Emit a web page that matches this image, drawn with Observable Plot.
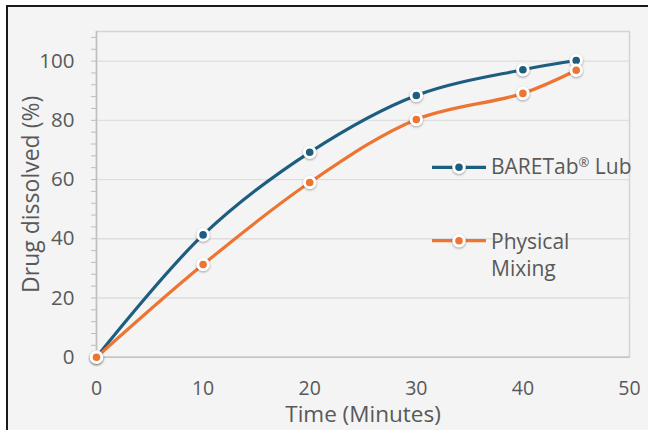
<!DOCTYPE html>
<html><head><meta charset="utf-8">
<script src="https://cdn.jsdelivr.net/npm/d3@7"></script>
<script src="https://cdn.jsdelivr.net/npm/@observablehq/plot@0.6"></script>
<style>
html,body{margin:0;padding:0;background:#fff;}
#wrap{position:relative;width:648px;height:430px;overflow:hidden;font-family:"Open Sans",sans-serif;}
#bg{position:absolute;left:6px;top:5px;right:0;bottom:0;background:#f4f4f4;border-top:2px solid #1a1a1a;border-left:2px solid #1a1a1a;}
#chart{position:absolute;left:0;top:0;}
#legend{position:absolute;left:0;top:0;pointer-events:none;}
</style>
</head><body>
<div id="wrap"><div id="bg"></div><div id="chart"></div><svg id="legend" width="648" height="430"></svg></div>
<script>
// Data
const times = [0, 10, 20, 30, 40, 45];
const baretab = [0, 41.3, 69.2, 88.4, 97.1, 100.2];
const physical = [0, 31.3, 59.0, 80.3, 89.1, 96.9];
const seriesNames = ["BARETab® Lub", "Physical Mixing"];
const seriesColors = ["#1d5e80", "#ed7431"];
const xTicks = [0, 10, 20, 30, 40, 50];
const yTicks = [0, 20, 40, 60, 80, 100];
const yMinorTicks = [0, 4, 8, 12, 16, 20, 24, 28, 32, 36, 40, 44, 48, 52, 56, 60, 64, 68, 72, 76, 80, 84, 88, 92, 96, 100, 104, 108];
const xTitle = "Time (Minutes)";
const yTitle = "Drug dissolved (%)";

const rows = times.flatMap((t, i) => [
  {t, v: baretab[i], s: seriesNames[0]},
  {t, v: physical[i], s: seriesNames[1]}
]);

const textColor = "#595959";

const plot = Plot.plot({
  width: 648, height: 430,
  marginLeft: 96, marginRight: 19, marginTop: 31, marginBottom: 73.3,
  style: {background: "transparent", fontFamily: "'Open Sans', sans-serif", color: textColor},
  x: {domain: [0, 50]},
  y: {domain: [0, 110]},
  color: {domain: seriesNames, range: seriesColors},
  marks: [
    Plot.gridY({ticks: yTicks.slice(1), stroke: "#dedede", strokeOpacity: 1, strokeWidth: 1.3}),
    Plot.frame({stroke: "#d4d4d4", strokeWidth: 1.5}),
    Plot.ruleY([0], {stroke: "#c4c4c4", strokeWidth: 1.5}),
    Plot.ruleX([0], {stroke: "#c0c0c0", strokeWidth: 1.5}),
    Plot.axisY({ticks: yMinorTicks, tickSize: 5, tickFormat: () => "", stroke: "#bdbdbd", label: null}),
    Plot.axisY({ticks: yTicks, tickSize: 0, tickPadding: 22, fontSize: 20.5, label: null, fill: textColor}),
    Plot.axisX({ticks: xTicks, tickSize: 0, tickPadding: 23.5, fontSize: 19.5, label: null, fill: textColor}),
    Plot.line(rows, {x: "t", y: "v", z: "s", stroke: "s", strokeWidth: 3.2, curve: "catmull-rom"}),
    Plot.dot(rows, {x: "t", y: "v", fill: "s", stroke: "white", strokeWidth: 3, r: 5.3}),
    Plot.text([yTitle], {frameAnchor: "left", textAnchor: "middle", lineAnchor: "middle", rotate: -90, dx: -65, fontSize: 23, fill: textColor}),
    Plot.text([xTitle], {frameAnchor: "bottom", textAnchor: "middle", lineAnchor: "middle", dy: 58, fontSize: 22.5, fill: textColor})
  ]
});
document.getElementById("chart").appendChild(plot);
d3.select(plot).selectAll('g[aria-label="dot"] circle').style("filter", "drop-shadow(0.5px 1.5px 1.2px rgba(0,0,0,0.35))");

// Legend
const leg = d3.select("#legend");
const legItems = [
  {color: seriesColors[0], y: 167.3, base: 174.3, single: true},
  {color: seriesColors[1], y: 240.7, base: 248.5, single: false}
];
legItems.forEach(it => {
  const g = leg.append("g");
  g.append("line").attr("x1", 432).attr("x2", 486).attr("y1", it.y).attr("y2", it.y)
    .attr("stroke", it.color).attr("stroke-width", 3.2);
  g.append("circle").attr("cx", 459).attr("cy", it.y).attr("r", 5.3)
    .attr("fill", it.color).attr("stroke", "white").attr("stroke-width", 3)
    .style("filter", "drop-shadow(0.5px 1.5px 1.2px rgba(0,0,0,0.35))");
  const t = g.append("text").attr("x", 491).attr("y", it.base)
    .attr("font-family", "'Open Sans', sans-serif").attr("font-size", 21).attr("fill", textColor);
  if (it.single) {
    t.append("tspan").text("BARETab");
    t.append("tspan").text("®").attr("font-size", 13).attr("dy", -7);
    t.append("tspan").text(" Lub").attr("dy", 7);
  } else {
    t.append("tspan").text("Physical");
    t.append("tspan").text("Mixing").attr("x", 491).attr("dy", 27.5);
  }
});
</script>
</body></html>
